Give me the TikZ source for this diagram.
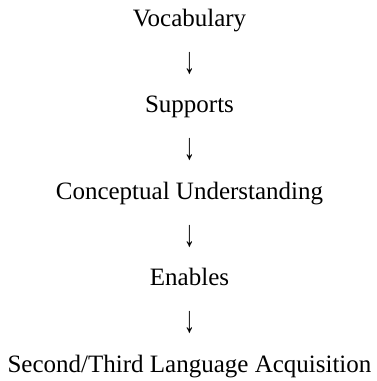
\documentclass[tikz,border=0pt]{standalone}
\usepackage{fontspec}
\setmainfont{Liberation Serif}
\begin{document}
\begin{tikzpicture}[x=1pt,y=-1pt,
  lbl/.style={anchor=base,inner sep=0pt,font=\fontsize{25}{30}\selectfont},
  arr/.style={anchor=base,inner sep=0pt,font=\fontsize{25}{30}\selectfont}]
\useasboundingbox (0,0) rectangle (377,381);
\newcommand{\dnarrow}{\scalebox{0.9}[1.5]{↓}}
\node[lbl] (voc) at (189.5,26) {Vocabulary};
\node[arr] (a1) at (189.5,73) {\dnarrow};
\node[lbl] (sup) at (189.5,112.5) {Supports};
\node[arr] (a2) at (189.5,159.5) {\dnarrow};
\node[lbl] (con) at (189.5,199) {Conceptual Understanding};
\node[arr] (a3) at (189.5,246) {\dnarrow};
\node[lbl] (ena) at (189.5,285.5) {Enables};
\node[arr] (a4) at (189.5,332.5) {\dnarrow};
\node[lbl] (sec) at (189.5,372) {Second/Third Language Acquisition};
\end{tikzpicture}
\end{document}
